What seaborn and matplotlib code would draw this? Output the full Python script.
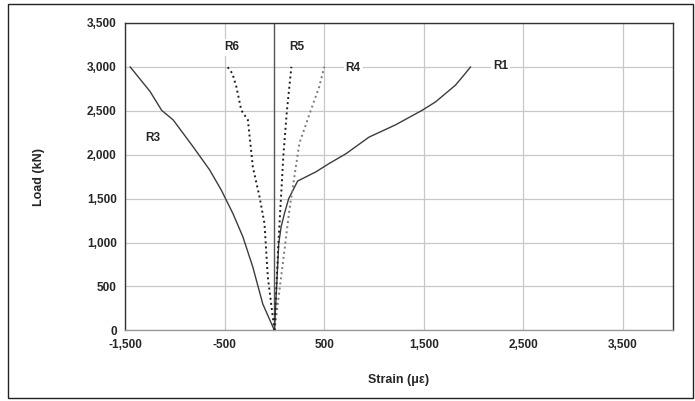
import numpy as np
import pandas as pd
import seaborn as sns
import matplotlib.pyplot as plt
from matplotlib.patches import Rectangle

# load steps (kN) and strain readings (micro-strain) for each gauge
r1_strain = [0, 43, 67, 100, 143, 233, 417, 550, 717, 950, 1217, 1483, 1617, 1817, 1917, 1970]
r1_load = [0, 990, 1180, 1330, 1500, 1700, 1805, 1900, 2010, 2200, 2340, 2505, 2600, 2790, 2925, 3000]

r3_strain = [0, -117, -217, -317, -417, -533, -650, -817, -1017, -1133, -1250, -1450]
r3_load = [0, 300, 720, 1065, 1330, 1595, 1825, 2090, 2395, 2505, 2720, 3000]

r4_strain = [0, 67, 150, 250, 367, 450, 500]
r4_load = [0, 610, 1370, 2130, 2510, 2775, 3000]

r5_strain = [0, 20, 40, 65, 90, 125, 170]
r5_load = [0, 500, 1000, 1500, 2000, 2500, 3000]

r6_strain = [0, -67, -100, -150, -217, -267, -333, -383, -423, -473]
r6_load = [0, 610, 1215, 1520, 1860, 2395, 2505, 2775, 2925, 3000]

sns.set_style("white")
plt.rcParams['font.family'] = ['Liberation Sans', 'DejaVu Sans']

fig = plt.figure(figsize=(6.95, 4.01), dpi=100)
ax = fig.add_axes([0.180, 0.176, 0.788, 0.767])

styles = [
    (r1_strain, r1_load, "-", "#3c3c3c", 1.0),
    (r3_strain, r3_load, "-", "#3c3c3c", 1.0),
    (r4_strain, r4_load, ":", "#7a7a7a", 1.4),
    (r5_strain, r5_load, ":", "#1e1e1e", 1.4),
    (r6_strain, r6_load, ":", "#1e1e1e", 1.4),
]
for xs, ys, ls, c, lw in styles:
    sns.lineplot(x=xs, y=ys, sort=False, estimator=None, ax=ax,
                 color=c, linestyle=ls, linewidth=lw, zorder=3)

ax.set_xlim(-1500, 4000)
ax.set_ylim(0, 3500)
ax.set_xticks([-1500, -500, 500, 1500, 2500, 3500])
ax.set_yticks(np.arange(0, 3501, 500))
ax.xaxis.set_major_formatter(plt.FuncFormatter(lambda v, p: f"{int(v):,}"))
ax.yaxis.set_major_formatter(plt.FuncFormatter(lambda v, p: f"{int(v):,}"))
ax.grid(True, color="#c8c8c8", linewidth=0.9)
ax.set_axisbelow(True)
ax.axvline(0, color="#555555", linewidth=1.0, zorder=2)

for side in ["left", "top", "right"]:
    ax.spines[side].set_color("#333333")
    ax.spines[side].set_linewidth(1.0)
ax.spines["bottom"].set_color("#999999")
ax.spines["bottom"].set_linewidth(1.0)
ax.tick_params(axis="both", length=3, color="#999999", labelsize=8.5, pad=3)
for lab in ax.get_xticklabels() + ax.get_yticklabels():
    lab.set_fontweight("bold")

ax.set_xlabel("Strain (με)", fontsize=9, fontweight="bold", labelpad=17)
ax.set_ylabel("Load (kN)", fontsize=9, fontweight="bold", labelpad=30)

box = dict(facecolor="white", edgecolor="none", pad=1.5)
labels = [("R6", -430, 3220), ("R5", 220, 3220), ("R4", 790, 2990),
          ("R1", 2270, 3010), ("R3", -1220, 2190)]
for t, x, y in labels:
    ax.text(x, y, t, fontsize=8.5, fontweight="bold", ha="center", va="center",
            bbox=box, zorder=4)

fig.patches.append(Rectangle((0.012, 0.008), 0.985, 0.982, transform=fig.transFigure,
                             fill=False, edgecolor="#222222", linewidth=1.0))

fig.savefig("out.png", dpi=100)
